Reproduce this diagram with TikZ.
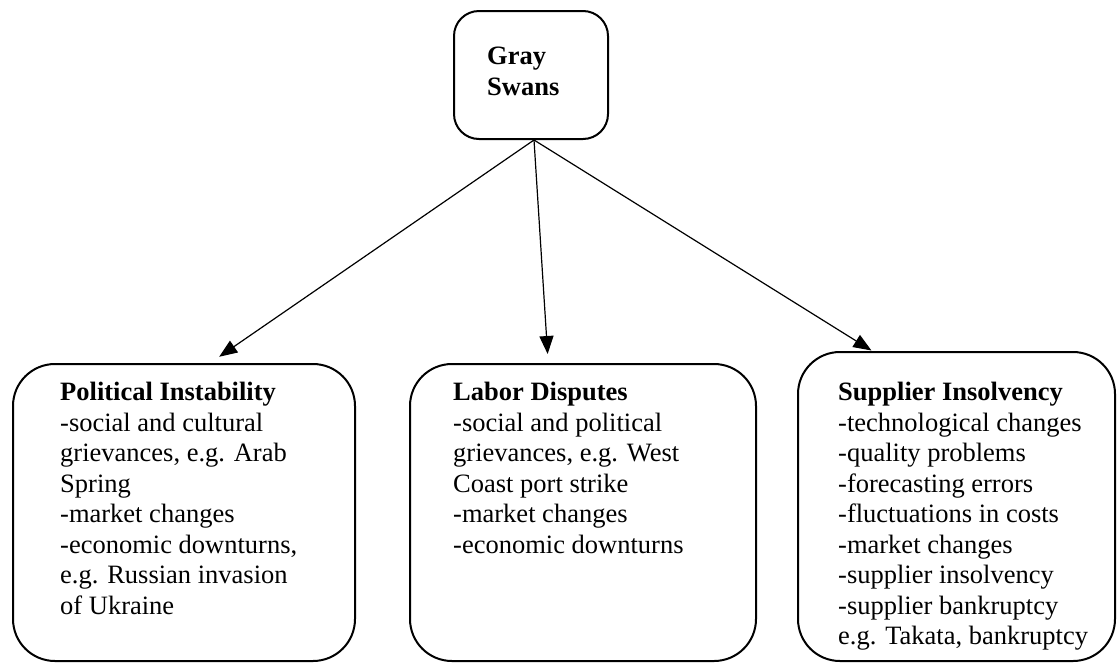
\documentclass[tikz,border=0pt]{standalone}
\usepackage{fontspec}
\setmainfont{Liberation Serif}
\usetikzlibrary{arrows.meta,calc}
\begin{document}
\begin{tikzpicture}[x=1pt,y=-1pt,
  panel/.style={draw,line width=2pt,rounded corners=#1,anchor=north west,inner sep=0pt},
  txt/.style={anchor=north west,inner sep=0pt,align=left,
    font=\fontsize{26.5}{30.5}\selectfont},
  arr/.style={-{Triangle[length=18pt,width=14pt]},line width=1.2pt}]
\useasboundingbox (0,0) rectangle (1118,662);

% root box
\node[panel=25pt,minimum width=154pt,minimum height=128pt] (gs) at (453,10) {};
\node[txt] (gstxt) at (487,47) {\textbf{Gray}\\\textbf{Swans}};

% category boxes
\node[panel=42pt,minimum width=342pt,minimum height=297pt] (pol) at (12,363) {};
\node[panel=42pt,minimum width=346pt,minimum height=297pt] (lab) at (409,363) {};
\node[panel=42pt,minimum width=317pt,minimum height=309pt] (sup) at (797,351) {};

\node[txt] (poltxt) at (60,382) {\textbf{Political Instability}\\
  -social and cultural\\grievances, e.g. Arab\\Spring\\-market changes\\
  -economic downturns,\\e.g. Russian invasion\\of Ukraine};
\node[txt] (labtxt) at (453,382) {\textbf{Labor Disputes}\\
  -social and political\\grievances, e.g. West\\Coast port strike\\
  -market changes\\-economic downturns};
\node[txt] (suptxt) at (838,382) {\textbf{Supplier Insolvency}\\
  -technological changes\\-quality problems\\-forecasting errors\\
  -fluctuations in costs\\-market changes\\-supplier insolvency\\
  -supplier bankruptcy\\e.g. Takata, bankruptcy};

% connectors
\draw[arr,shorten >=11pt] ([xshift=3pt]gs.south) -- ($(pol.north west)!0.576!(pol.north east)$);
\draw[arr,shorten >=9pt] ([xshift=3pt]gs.south) -- ($(lab.north west)!0.40!(lab.north east)$);
\draw[arr,shorten >=1pt] ([xshift=3pt]gs.south) -- ($(sup.north west)!0.236!(sup.north east)$);
\end{tikzpicture}
\end{document}
